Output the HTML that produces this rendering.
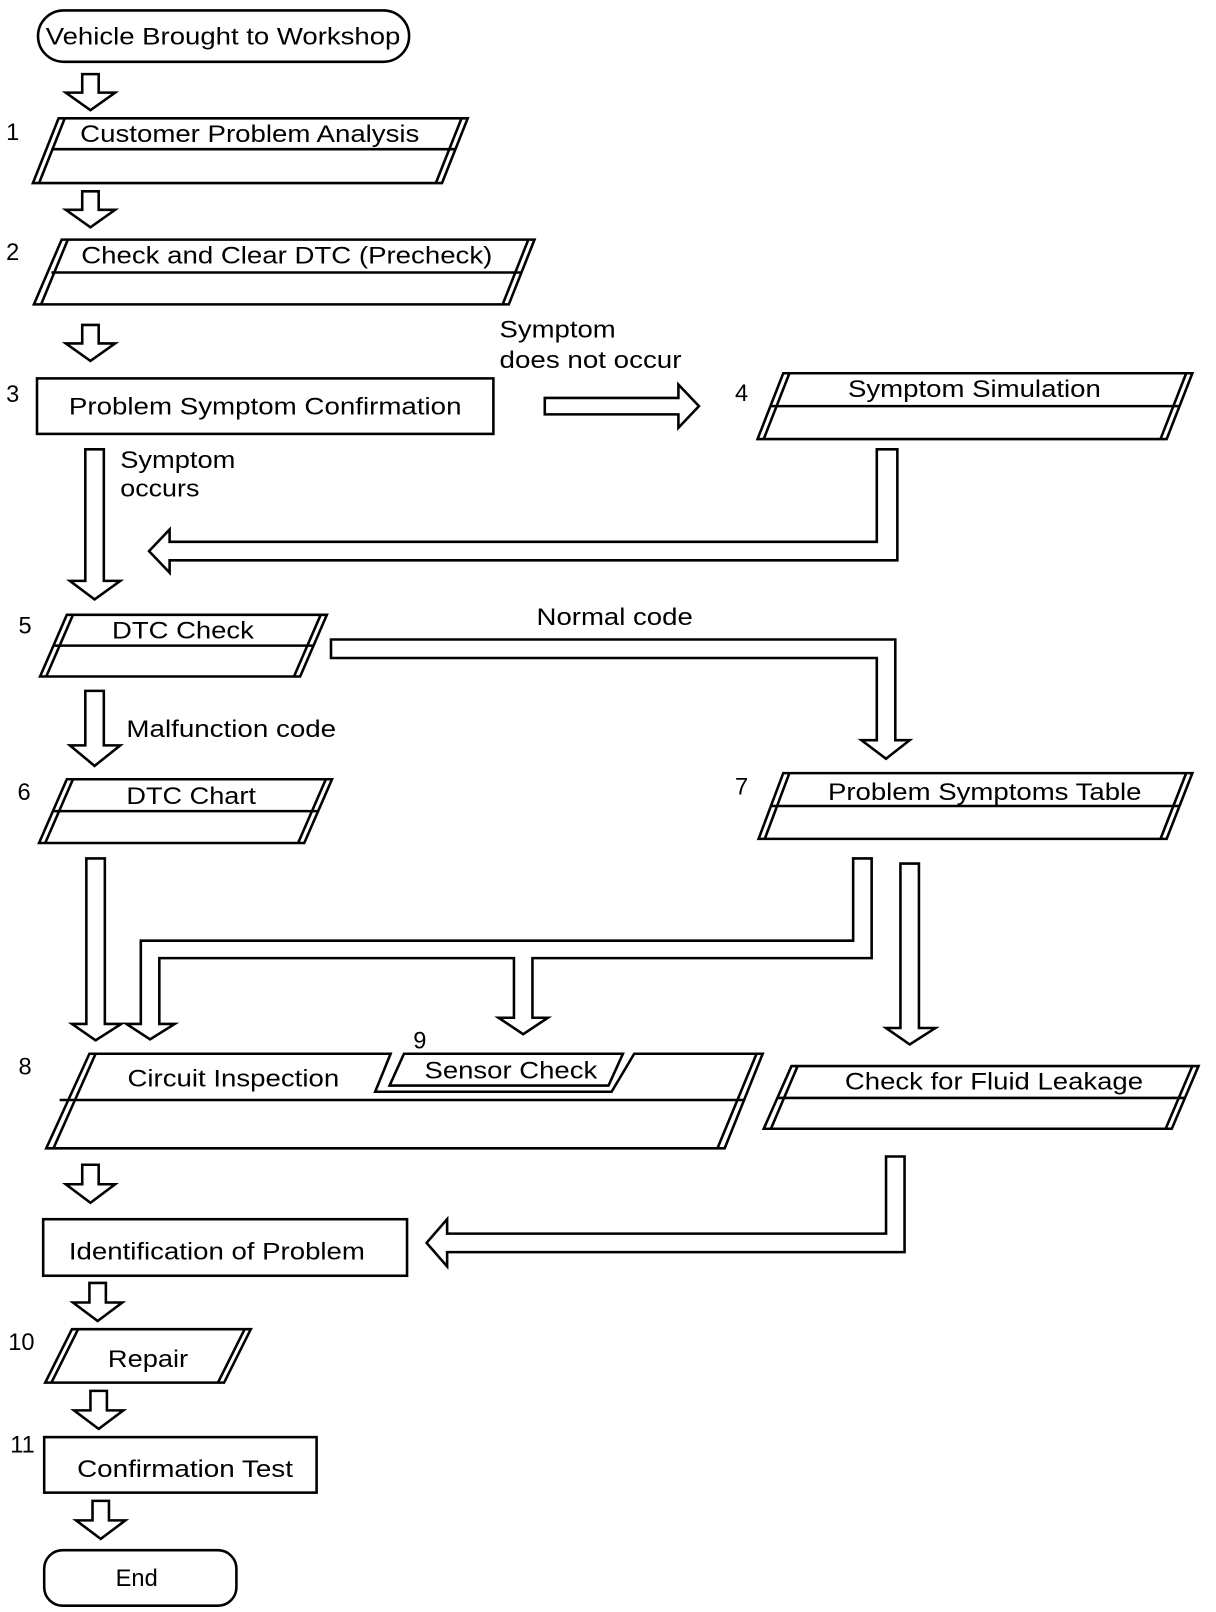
<!DOCTYPE html>
<html><head><meta charset="utf-8"><style>html,body{margin:0;padding:0;background:#fff}svg{display:block}text{font-family:"Liberation Sans",sans-serif;font-size:23px;fill:#000}</style></head><body>
<svg width="1216" height="1612" viewBox="0 0 1183 1568" xmlns="http://www.w3.org/2000/svg">
<g fill="#fff" stroke="#000" stroke-width="2.5" stroke-linejoin="miter">
<!-- start oval -->
<rect x="37" y="10" width="361" height="50" rx="25"/>
<!-- down arrows -->
<polygon points="80,72 96,72 96,90 112,90 88,107 64,90 80,90"/>
<polygon points="80,186 96,186 96,204 112,204 88,221 64,204 80,204"/>
<polygon points="80,316 96,316 96,334 112,334 88,351 64,334 80,334"/>
<!-- box1 -->
<polygon points="57,115 455,115 430,178 32,178"/>
<line x1="51" y1="115" x2="26" y2="178" transform="translate(12,0)"/>
<line x1="449" y1="115" x2="424" y2="178"/>
<line x1="50" y1="145" x2="443" y2="145"/>
<!-- box2 -->
<polygon points="60,233 520,233 495,296 33,296"/>
<line x1="66" y1="233" x2="40" y2="296"/>
<line x1="514" y1="233" x2="489" y2="296"/>
<line x1="50" y1="265" x2="507" y2="265"/>
<!-- box3 -->
<rect x="36" y="368" width="444" height="54"/>
<!-- right arrow 3->4 -->
<polygon points="530,387 660,387 660,374 680,395 660,416 660,403 530,403"/>
<!-- box4 -->
<polygon points="762,363 1160,363 1135,427 737,427"/>
<line x1="768" y1="363" x2="743" y2="427"/>
<line x1="1154" y1="363" x2="1129" y2="427"/>
<line x1="750" y1="395" x2="1148" y2="395"/>
<!-- long down arrow 3->5 -->
<polygon points="83,437 101,437 101,565 117,565 92,583 68,565 83,565"/>
<!-- return arrow 4 -->
<polygon points="853,437 873,437 873,545 165,545 165,557 145,536 165,515 165,527 853,527"/>
<!-- box5 -->
<polygon points="65,598 318,598 292,658 39,658"/>
<line x1="71" y1="598" x2="45" y2="658"/>
<line x1="312" y1="598" x2="286" y2="658"/>
<line x1="52" y1="628" x2="305" y2="628"/>
<!-- normal code connector -->
<polygon points="322,622 871,622 871,720 885,720 862,738 838,720 853,720 853,640 322,640"/>
<!-- 5->6 -->
<polygon points="83,672 101,672 101,725 117,725 92,745 68,725 83,725"/>
<!-- box6 -->
<polygon points="65,758 323,758 296,820 38,820"/>
<line x1="71" y1="758" x2="44" y2="820"/>
<line x1="317" y1="758" x2="290" y2="820"/>
<line x1="52" y1="789" x2="310" y2="789"/>
<!-- box7 -->
<polygon points="762,752 1160,752 1135,816 738,816"/>
<line x1="768" y1="752" x2="744" y2="816"/>
<line x1="1154" y1="752" x2="1129" y2="816"/>
<line x1="750" y1="784" x2="1148" y2="784"/>
<!-- 6 -> 8 -->
<polygon points="84,835 102,835 102,996 118,996 93,1012 70,996 84,996"/>
<!-- from 7 branching -->
<polygon points="830,835 848,835 848,932 518,932 518,990 533,990 509,1006 485,990 500,990 500,932 155,932 155,996 170,996 146,1011 123,996 137,996 137,915 830,915"/>
<!-- 7 -> fluid -->
<polygon points="876,840 894,840 894,1000 910,1000 885,1016 862,1000 876,1000"/>
<!-- box8 -->
<polygon points="87,1025 380,1025 365,1062 595,1062 617,1025 742,1025 705,1117 45,1117"/>
<line x1="93" y1="1025" x2="52" y2="1117"/>
<line x1="736" y1="1025" x2="698" y2="1117"/>
<line x1="58" y1="1070" x2="725" y2="1070"/>
<polygon points="393,1025 606,1025 592,1056 379,1056"/>
<!-- fluid box -->
<polygon points="770,1037 1166,1037 1140,1098 743,1098"/>
<line x1="776" y1="1037" x2="750" y2="1098"/>
<line x1="1160" y1="1037" x2="1134" y2="1098"/>
<line x1="757" y1="1068" x2="1153" y2="1068"/>
<!-- 8 -> ID -->
<polygon points="80,1133 96,1133 96,1152 112,1152 88,1170 64,1152 80,1152"/>
<!-- ID box -->
<rect x="42" y="1186" width="354" height="55"/>
<!-- return from fluid -->
<polygon points="862,1125 880,1125 880,1218 435,1218 435,1232 415,1209 435,1186 435,1200 862,1200"/>
<!-- ID -> repair -->
<polygon points="87,1248 103,1248 103,1267 119,1267 95,1285 71,1267 87,1267"/>
<!-- repair -->
<polygon points="70,1293 244,1293 218,1345 44,1345"/>
<line x1="76" y1="1293" x2="50" y2="1345"/>
<line x1="238" y1="1293" x2="212" y2="1345"/>
<!-- -> 11 -->
<polygon points="88,1353 104,1353 104,1372 120,1372 96,1390 72,1372 88,1372"/>
<rect x="43" y="1398" width="265" height="54"/>
<polygon points="90,1460 106,1460 106,1479 122,1479 98,1497 74,1479 90,1479"/>
<rect x="43" y="1508" width="187" height="54" rx="18"/>
</g>
<g text-anchor="middle">
<text x="217" y="43" textLength="345" lengthAdjust="spacingAndGlyphs">Vehicle Brought to Workshop</text>
<text x="243" y="138" textLength="330" lengthAdjust="spacingAndGlyphs">Customer Problem Analysis</text>
<text x="279" y="256" textLength="400" lengthAdjust="spacingAndGlyphs">Check and Clear DTC (Precheck)</text>
<text x="258" y="403" textLength="382" lengthAdjust="spacingAndGlyphs">Problem Symptom Confirmation</text>
<text x="948" y="386" textLength="246" lengthAdjust="spacingAndGlyphs">Symptom Simulation</text>
<text x="178" y="621" textLength="138" lengthAdjust="spacingAndGlyphs">DTC Check</text>
<text x="186" y="782" textLength="126" lengthAdjust="spacingAndGlyphs">DTC Chart</text>
<text x="958" y="778" textLength="305" lengthAdjust="spacingAndGlyphs">Problem Symptoms Table</text>
<text x="227" y="1057" textLength="206" lengthAdjust="spacingAndGlyphs">Circuit Inspection</text>
<text x="497" y="1049" textLength="168" lengthAdjust="spacingAndGlyphs">Sensor Check</text>
<text x="967" y="1060" textLength="290" lengthAdjust="spacingAndGlyphs">Check for Fluid Leakage</text>
<text x="211" y="1225" textLength="288" lengthAdjust="spacingAndGlyphs">Identification of Problem</text>
<text x="144" y="1330" textLength="78" lengthAdjust="spacingAndGlyphs">Repair</text>
<text x="180" y="1437" textLength="210" lengthAdjust="spacingAndGlyphs">Confirmation Test</text>
<text x="133" y="1543">End</text>
<text x="598" y="608" textLength="152" lengthAdjust="spacingAndGlyphs">Normal code</text>
</g>
<text x="486" y="328" textLength="113" lengthAdjust="spacingAndGlyphs">Symptom</text>
<text x="486" y="358" textLength="177" lengthAdjust="spacingAndGlyphs">does not occur</text>
<text x="117" y="455" textLength="112" lengthAdjust="spacingAndGlyphs">Symptom</text>
<text x="117" y="483" textLength="77" lengthAdjust="spacingAndGlyphs">occurs</text>
<text x="123" y="717" textLength="204" lengthAdjust="spacingAndGlyphs">Malfunction code</text>
<text x="6" y="136">1</text>
<text x="6" y="253">2</text>
<text x="6" y="391">3</text>
<text x="715" y="390">4</text>
<text x="18" y="616">5</text>
<text x="17" y="778">6</text>
<text x="715" y="773">7</text>
<text x="18" y="1045">8</text>
<text x="402" y="1020">9</text>
<text x="8" y="1313">10</text>
<text x="10" y="1413">11</text>
</svg>
</body></html>
